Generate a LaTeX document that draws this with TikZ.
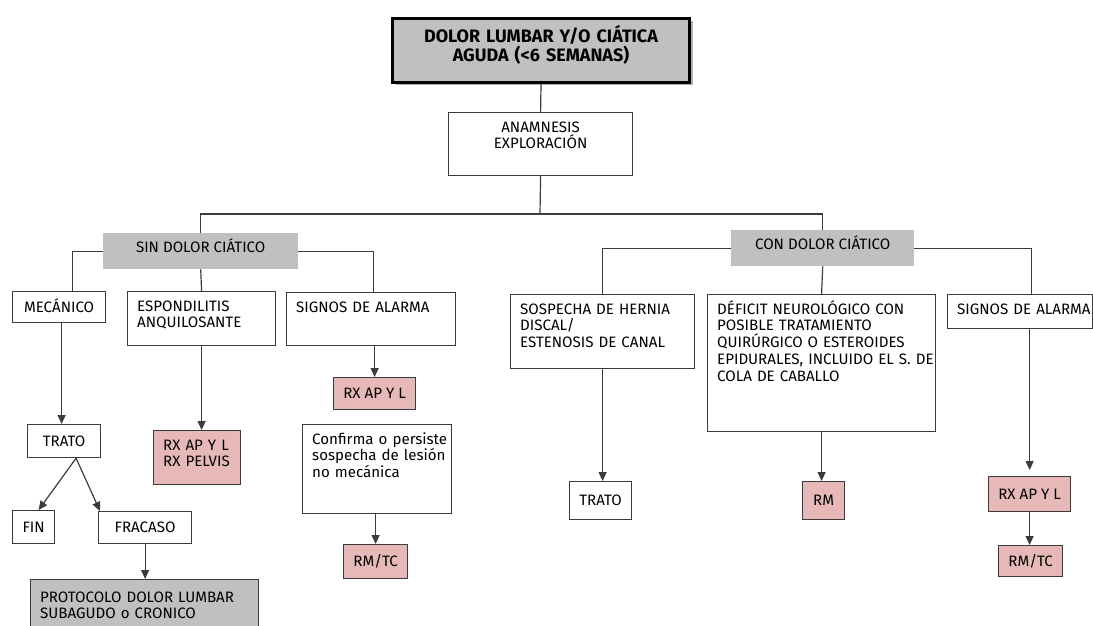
\documentclass[tikz,border=0pt]{standalone}
\usepackage{fontspec}
\setmainfont{Fira Sans}
\usetikzlibrary{positioning,arrows.meta,shadows}
\definecolor{gris}{HTML}{C0C0C0}
\definecolor{rosa}{HTML}{E6B9B8}
\definecolor{borde}{HTML}{3C3C3C}

\tikzset{
  caja/.style={draw=borde, line width=1.2pt, anchor=north west, inner sep=0pt},
  tam/.style 2 args={minimum width=#1pt, minimum height=#2pt},
  cen/.style={text height=10.5pt, text depth=0pt},
  prueba/.style={caja, cen, fill=rosa},
  fondo/.style={fill=gris, anchor=north west, inner sep=0pt, cen, text depth=7pt},
  txt/.style={anchor=north west, align=left, text width=260pt, inner xsep=10pt, inner ysep=6pt,
    execute at begin node={\rule{0pt}{14pt}}},
  linea/.style={draw=borde, line width=1.2pt},
  flecha/.style={linea, -{Triangle[length=9pt,width=8pt]}}
}

\begin{document}
\begin{tikzpicture}[x=1pt, y=-1pt, font=\fontsize{15.1}{16.7}\selectfont]

\useasboundingbox (0,0) rectangle (1093,626);
\clip (0,0) rectangle (1093,626);

% cabecera
\node[caja, fill=gris, draw=black, line width=3pt, tam={297}{64},
  drop shadow={shadow xshift=3pt, shadow yshift=-3pt, fill=black!60}] (tit) at (391,17) {};
\node[txt, anchor=north, align=center, text width=280pt, inner ysep=8pt,
  execute at begin node={\rule{0pt}{17pt}},
  font=\bfseries\fontsize{18}{19.5}\selectfont] (tit_t) at (tit.north)
  {DOLOR LUMBAR Y/O CIÁTICA\\AGUDA (<6 SEMANAS)};
\node[caja, tam={184}{63}] (anam) at (448,112) {};
\node[txt, anchor=north, align=center, text width=164pt] (anam_t) at (anam.north) {ANAMNESIS\\EXPLORACIÓN};
\coordinate (bif) at (540,214);

\node[fondo, tam={195}{36}] (sin) at (103,233) {SIN DOLOR CIÁTICO};
\node[fondo, tam={183}{36}] (con) at (731,230) {CON DOLOR CIÁTICO};

% sin dolor ciatico
\node[caja, cen, tam={93}{31}] (mec) at (12,291) {MECÁNICO};
\node[caja, tam={148}{54}] (esp) at (127,291) {};
\node[txt] (esp_t) at (esp.north west) {ESPONDILITIS\\ANQUILOSANTE};
\node[caja, tam={169}{53}] (sig1) at (286,292) {};
\node[txt] (sig1_t) at (sig1.north west) {SIGNOS DE ALARMA};
\node[prueba, tam={82}{32}] (rx1) at (333,377) {RX AP Y L};
\node[caja, tam={149}{89}] (conf) at (302,424) {};
\node[txt] (conf_t) at (conf.north west) {Confirma o persiste\\sospecha de lesión\\no mecánica};
\node[prueba, tam={64}{34}] (rmtc1) at (343,544) {RM/TC};
\node[caja, cen, tam={73}{33}] (trato1) at (27,424) {TRATO};
\node[caja, cen, tam={42}{33}] (fin) at (12,510) {FIN};
\node[caja, cen, tam={93}{32}] (fracaso) at (98,511) {FRACASO};
\node[caja, fill=gris, tam={228}{56}] (proto) at (30,579) {};
\node[txt, inner ysep=9pt] (proto_t) at (proto.north west) {PROTOCOLO DOLOR LUMBAR\\SUBAGUDO o CRONICO};
\node[caja, fill=rosa, tam={87}{54}] (rx2) at (153,430) {};
\node[txt] (rx2_t) at (rx2.north west) {RX AP Y L\\RX PELVIS};

% con dolor ciatico
\node[caja, tam={184}{74}] (sosp) at (510,294) {};
\node[txt] (sosp_t) at (sosp.north west) {SOSPECHA DE HERNIA\\DISCAL/\\ESTENOSIS DE CANAL};
\node[caja, tam={228}{137}] (def) at (707,294) {};
\node[txt] (def_t) at (def.north west) {DÉFICIT NEUROLÓGICO CON\\POSIBLE TRATAMIENTO\\QUIRÚRGICO O ESTEROIDES\\EPIDURALES, INCLUIDO EL S. DE\\COLA DE CABALLO};
\node[caja, tam={145}{34}] (sig2) at (947,294) {};
\node[txt] (sig2_t) at (sig2.north west) {SIGNOS DE ALARMA};
\node[caja, cen, tam={62}{38}] (trato2) at (569,481) {TRATO};
\node[prueba, tam={42}{38}] (rm) at (802,481) {RM};
\node[prueba, tam={82}{35}] (rx3) at (988,476) {RX AP Y L};
\node[prueba, tam={64}{31}] (rmtc2) at (998,545) {RM/TC};

% lineas
\draw[linea] (tit.south) -- (anam.north);
\draw[linea] (anam.south) -- (bif);
\draw[linea] (sin.north) |- (bif) -| (con.north);
\draw[linea] (sin.west) -| ([xshift=13pt]mec.north);
\draw[linea] (sin.east) -| ([xshift=2pt]sig1.north);
\draw[linea] (sin.south) -- (esp.north);
\draw[linea] (con.west) -| (sosp.north);
\draw[linea] (con.east) -| ([xshift=11pt]sig2.north);
\draw[linea] (con.south) -- (def.north);

% flechas
\draw[flecha] ([xshift=2.5pt]mec.south) -- ([xshift=-2.5pt]trato1.north);
\draw[flecha] ([xshift=12pt]trato1.south) -- ([xshift=5pt]fin.north);
\draw[flecha] ([xshift=12pt]trato1.south) -- ([xshift=2pt]fracaso.north west);
\draw[flecha] (fracaso.south) -- (fracaso.south |- proto.north);
\draw[flecha] (esp.south) -- (esp.south |- rx2.north);
\draw[flecha] (rx1.north |- sig1.south) -- (rx1.north);
\draw[flecha] (rmtc1.north |- conf.south) -- (rmtc1.north);
\draw[flecha] (sosp.south) -- (sosp.south |- trato2.north);
\draw[flecha] (def.south) -- (def.south |- rm.north);
\draw[flecha] (rx3.north |- sig2.south) -- ([yshift=6pt]rx3.north);
\draw[flecha] (rx3.south) -- (rx3.south |- rmtc2.north);
\end{tikzpicture}
\end{document}
